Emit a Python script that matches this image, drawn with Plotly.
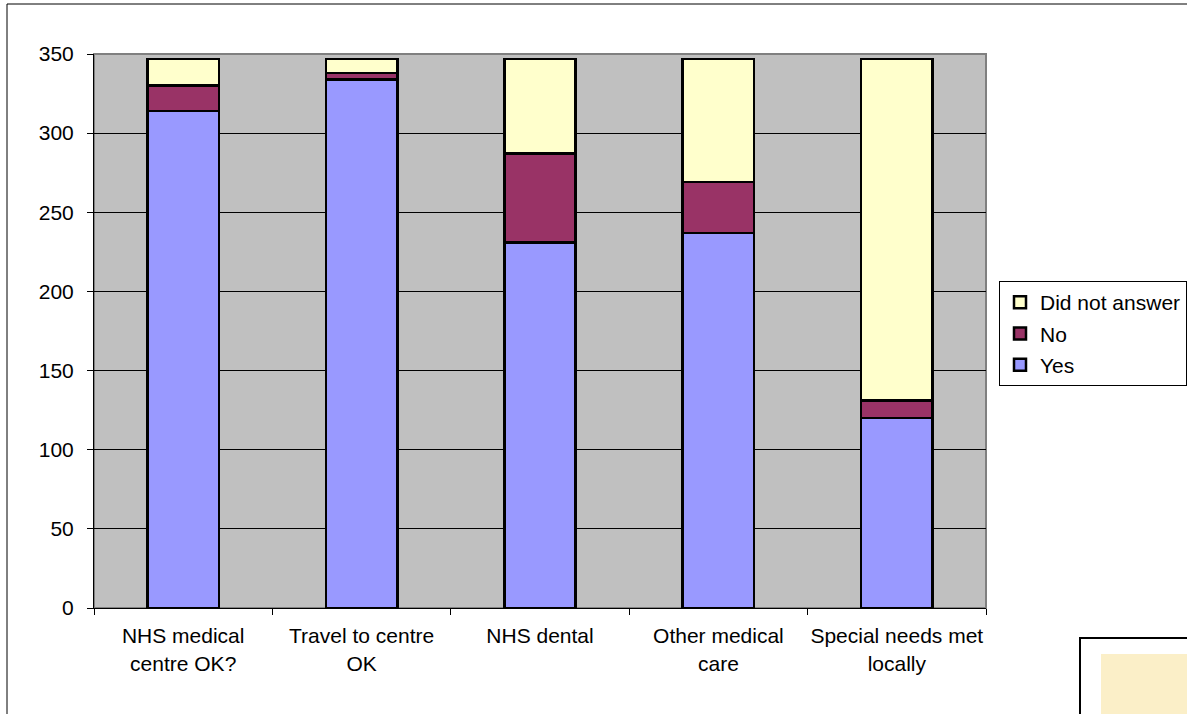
import plotly.graph_objects as go

categories = ["NHS medical<br>centre OK?", "Travel to centre<br>OK", "NHS dental", "Other medical<br>care", "Special needs met<br>locally"]
yes = [314, 334, 231, 237, 120]
no = [16, 4, 56, 32, 11]
did_not_answer = [17, 9, 60, 78, 216]

W, H = 1187, 714
L, R, T, B = 94, 986, 54, 608

def px(x):
    return (x - L) / (R - L)

def py(y):
    return (B - y) / (B - T)

fig = go.Figure()
for rank, (name, vals, col) in enumerate([("Yes", yes, "#9999FF"), ("No", no, "#993366"), ("Did not answer", did_not_answer, "#FFFFCC")]):
    fig.add_trace(go.Bar(x=categories, y=vals, name=name, legendgroup=name, legendrank=1000 - rank,
                         marker=dict(color=col, line=dict(color="black", width=2.5))))

fig.update_layout(
    width=W, height=H, barmode="stack", bargap=0.6,
    paper_bgcolor="white", plot_bgcolor="#C0C0C0",
    margin=dict(l=L, r=W - R, t=T, b=H - B, pad=0, autoexpand=False),
    font=dict(family="Liberation Sans, Arial", size=21, color="black"),
    legend=dict(traceorder="grouped", x=px(999), y=py(281), xanchor="left", yanchor="top",
                bordercolor="black", borderwidth=1, bgcolor="white",
                font=dict(size=21), itemwidth=30, tracegroupgap=1),
    showlegend=True,
    shapes=[
        dict(type="rect", xref="paper", yref="paper", x0=px(7), y0=py(4), x1=px(1200), y1=py(730),
             line=dict(color="black", width=1), fillcolor="rgba(0,0,0,0)", layer="below"),
        dict(type="rect", xref="paper", yref="paper", x0=px(1080), y0=py(638), x1=px(1200), y1=py(730),
             line=dict(color="black", width=2), fillcolor="white"),
        dict(type="rect", xref="paper", yref="paper", x0=px(1101), y0=py(654), x1=px(1200), y1=py(730),
             line=dict(width=0), fillcolor="#FBEFC8"),
        dict(type="rect", xref="paper", yref="paper", x0=0, y0=0, x1=1, y1=1,
             line=dict(color="#808080", width=2), fillcolor="rgba(0,0,0,0)", layer="below"),
    ],
)
fig.update_xaxes(showline=True, linecolor="black", linewidth=1, ticks="outside", tickson="boundaries",
                 ticklen=6, tickcolor="black", showgrid=False, tickfont=dict(size=21),
                 tickangle=0, ticklabelstandoff=9)
fig.update_yaxes(range=[0, 350], dtick=50, showline=True, linecolor="black", linewidth=1,
                 ticks="outside", ticklen=6, tickcolor="black", showgrid=True, gridcolor="black",
                 gridwidth=1, zeroline=False, tickfont=dict(size=21), ticklabelstandoff=9)

fig.write_html("out.html", config={"displayModeBar": False},
               post_script="document.body.style.margin='0';document.body.style.overflow='hidden';")
